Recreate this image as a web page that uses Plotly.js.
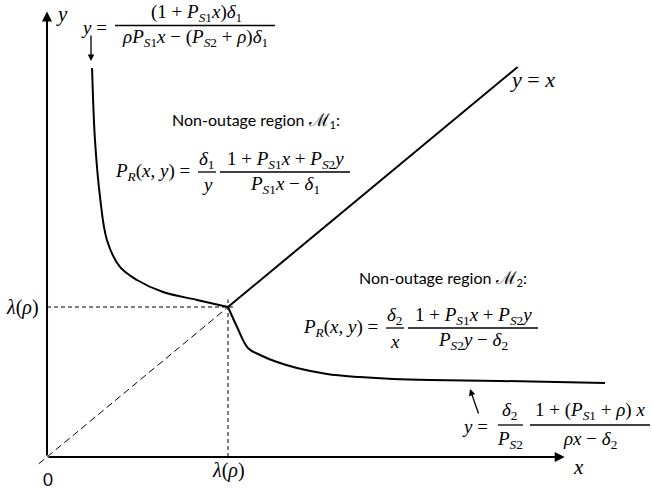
<!DOCTYPE html>
<html>
<head>
<meta charset="utf-8">
<script src="https://cdn.plot.ly/plotly-3.0.1.min.js"></script>
<style>
  body { margin: 0; background: #fff; }
  #chart { width: 652px; height: 489px; }
</style>
</head>
<body>
<div id="chart"></div>
<script>
// boundary curves, in units of lambda(rho)
const lam = 1;
const curve1X = [0.249, 0.265, 0.293, 0.331, 0.403, 0.497, 0.641, 0.829, 1.0];
const curve1Y = [2.593, 2.113, 1.733, 1.447, 1.267, 1.180, 1.100, 1.047, 1.0];
const curve2X = [1.0, 1.050, 1.110, 1.177, 1.271, 1.381, 1.547, 1.729, 1.912, 2.116, 2.503, 3.083];
const curve2Y = [1.0, 0.867, 0.727, 0.680, 0.633, 0.593, 0.553, 0.533, 0.520, 0.513, 0.507, 0.493];
const diagX = [1.0, 2.6];
const dashDiagX = [-0.045, 1.0];
const xAxisEnd = 2.86;
const yAxisEnd = 2.97;

const mathFont = { family: 'Liberation Serif, DejaVu Serif, serif', size: 19, color: '#000' };
const textFont = { family: 'Lato, Open Sans, sans-serif', size: 16, color: '#000' };

const W = 652, H = 489;
function px(x) { return x / W; }
function py(y) { return 1 - y / H; }

const I = s => '<i>' + s + '</i>';
const PS1 = I('P') + '<sub>' + I('S') + '1</sub>';
const PS2 = I('P') + '<sub>' + I('S') + '2</sub>';
const d1 = I('δ') + '<sub>1</sub>';
const d2 = I('δ') + '<sub>2</sub>';
const PR = I('P') + '<sub>' + I('R') + '</sub>(' + I('x') + ', ' + I('y') + ') =';
const M = '<span style="font-family:DejaVu Serif;font-size:18px">ℳ</span>';

var data = [
    { x: curve1X, y: curve1Y, mode: 'lines', line: { color: '#000', width: 2, shape: 'spline' } },
    { x: curve2X, y: curve2Y, mode: 'lines', line: { color: '#000', width: 2, shape: 'spline' } },
    { x: diagX, y: diagX, mode: 'lines', line: { color: '#000', width: 2 } },
    { x: dashDiagX, y: dashDiagX, mode: 'lines', line: { color: '#000', width: 1, dash: '7px,4px' } },
    { x: [0, lam * 1.04], y: [lam, lam], mode: 'lines', line: { color: '#000', width: 1, dash: '4px,3px' } },
    { x: [lam, lam], y: [0, lam * 1.05], mode: 'lines', line: { color: '#000', width: 1, dash: '4px,3px' } }
];

function txt(x, y, text, font, anchor) {
    return { xref: 'paper', yref: 'paper', x: px(x), y: py(y), text: text, showarrow: false,
        font: font || mathFont, xanchor: anchor || 'center', yanchor: 'middle' };
}
function bar(x0, x1, y) {
    return { type: 'line', xref: 'paper', yref: 'paper', x0: px(x0), x1: px(x1), y0: py(y), y1: py(y),
        line: { color: '#000', width: 1.3 } };
}

var annotations = [
    // axes
    { x: xAxisEnd, y: 0, ax: 0, ay: 0, xref: 'x', yref: 'y', axref: 'x', ayref: 'y', text: '',
      showarrow: true, arrowhead: 2, arrowsize: 1, arrowwidth: 2, arrowcolor: '#000' },
    { x: 0, y: yAxisEnd, ax: 0, ay: 0, xref: 'x', yref: 'y', axref: 'x', ayref: 'y', text: '',
      showarrow: true, arrowhead: 2, arrowsize: 1, arrowwidth: 2, arrowcolor: '#000' },
    txt(578, 467, I('x'), { family: mathFont.family, size: 21, color: '#000' }),
    txt(62, 14, I('y'), { family: mathFont.family, size: 21, color: '#000' }),
    txt(48, 479, '0', { family: textFont.family, size: 17, color: '#000' }),
    txt(228, 470, I('λ') + '(' + I('ρ') + ')', { family: mathFont.family, size: 20, color: '#000' }),
    txt(22, 307, I('λ') + '(' + I('ρ') + ')', { family: mathFont.family, size: 20, color: '#000' }),
    txt(508, 79, I('y') + ' = ' + I('x'), { family: mathFont.family, size: 22, color: '#000' }, 'left'),

    // top formula
    txt(94, 27, I('y') + ' ='),
    txt(196, 13, '(1 + ' + PS1 + I('x') + ')' + d1),
    txt(195, 38, I('ρ') + PS1 + I('x') + ' − (' + PS2 + ' + ' + I('ρ') + ')' + d1),
    { xref: 'paper', yref: 'paper', x: px(91), y: py(61), ax: 0, ay: -27, text: '', showarrow: true,
      arrowhead: 2, arrowsize: 1, arrowwidth: 1.3, arrowcolor: '#000' },

    // region 1
    txt(256, 120, 'Non-outage region ' + M + '<sub>1</sub>:', textFont),
    txt(152, 172, PR),
    txt(207, 160, d1),
    txt(207, 185, I('y')),
    txt(285, 160, '1 + ' + PS1 + I('x') + ' + ' + PS2 + I('y')),
    txt(285, 185, PS1 + I('x') + ' − ' + d1),

    // region 2
    txt(443, 278, 'Non-outage region ' + M + '<sub>2</sub>:', textFont),
    txt(340, 328, PR),
    txt(395, 316, d2),
    txt(395, 341, I('x')),
    txt(473, 316, '1 + ' + PS1 + I('x') + ' + ' + PS2 + I('y')),
    txt(473, 341, PS2 + I('y') + ' − ' + d2),

    // bottom formula
    txt(475, 426, I('y') + ' ='),
    txt(510, 411, d2),
    txt(510, 440, PS2),
    txt(590, 411, '1 + (' + PS1 + ' + ' + I('ρ') + ') ' + I('x')),
    txt(590, 440, I('ρx') + ' − ' + d2),
    { xref: 'paper', yref: 'paper', x: px(470), y: py(389), ax: 9, ay: 26, text: '', showarrow: true,
      arrowhead: 2, arrowsize: 1, arrowwidth: 1.3, arrowcolor: '#000' }
];

var shapes = [
    bar(115, 275, 25.5),
    bar(198, 216, 172),
    bar(220, 350, 172),
    bar(386, 404, 328),
    bar(408, 538, 328),
    bar(498, 523, 425),
    bar(530, 650, 425)
];

var layout = {
    width: W,
    height: H,
    margin: { l: 0, r: 0, t: 0, b: 0 },
    showlegend: false,
    paper_bgcolor: '#fff',
    plot_bgcolor: '#fff',
    xaxis: { range: [-0.2597, 3.3425], visible: false, fixedrange: true },
    yaxis: { range: [-0.2133, 3.0467], visible: false, fixedrange: true },
    annotations: annotations,
    shapes: shapes
};

Plotly.newPlot('chart', data, layout, { staticPlot: true });
</script>
</body>
</html>
